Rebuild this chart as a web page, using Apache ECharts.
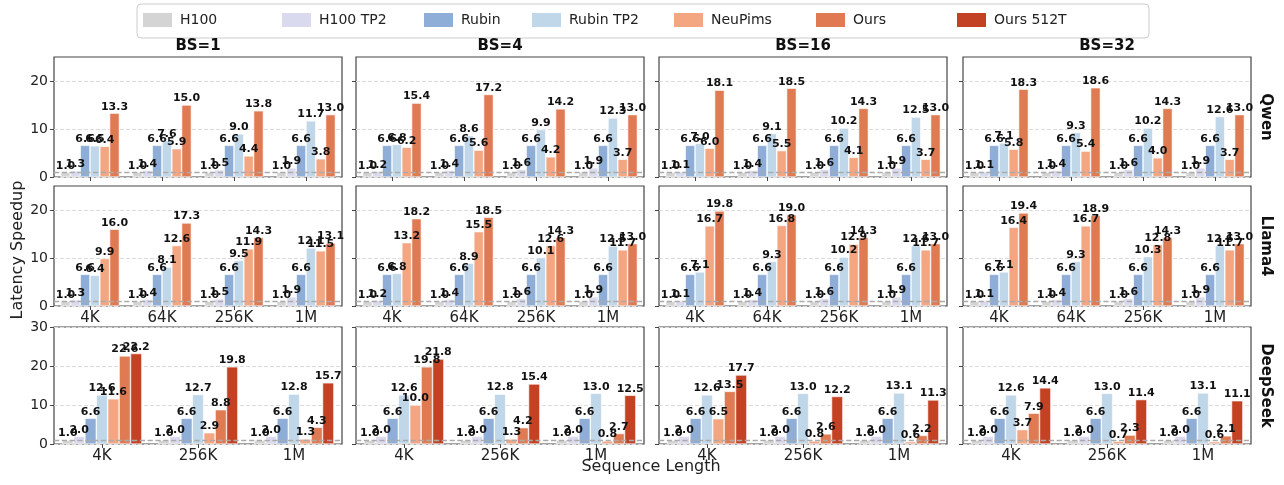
<!DOCTYPE html>
<html>
<head>
<meta charset="utf-8">
<script src="https://cdn.jsdelivr.net/npm/echarts@6/dist/echarts.min.js"></script>
<style>
  html, body { margin: 0; padding: 0; background: #fff; }
  #chart { width: 1284px; height: 485px; }
</style>
</head>
<body>
<div id="chart"></div>
<script>
var systems = ['H100', 'H100 TP2', 'Rubin', 'Rubin TP2', 'NeuPims', 'Ours', 'Ours 512T'];
var colors = ['#d4d4d4', '#dadaef', '#8eaed8', '#c0d7ea', '#f4a683', '#e07a52', '#c44224'];
var batchSizes = ['BS=1', 'BS=4', 'BS=16', 'BS=32'];
var models = ['Qwen', 'Llama4', 'DeepSeek'];
var seqLong = ['4K', '64K', '256K', '1M'];
var seqDeepSeek = ['4K', '256K', '1M'];
var yTicksSmall = [0, 10, 20];
var yTicksBig = [0, 10, 20, 30];

// one row per system, one value per sequence length
var qwenBS1 = [[1.0, 1.0, 1.0, 1.0], [1.3, 1.4, 1.5, 1.9], [6.6, 6.6, 6.6, 6.6], [6.5, 7.6, 9.0, 11.7], [6.4, 5.9, 4.4, 3.8], [13.3, 15.0, 13.8, 13.0]];
var qwenBS4 = [[1.0, 1.0, 1.0, 1.0], [1.2, 1.4, 1.6, 1.9], [6.6, 6.6, 6.6, 6.6], [6.8, 8.6, 9.9, 12.3], [6.2, 5.6, 4.2, 3.7], [15.4, 17.2, 14.2, 13.0]];
var qwenBS16 = [[1.0, 1.0, 1.0, 1.0], [1.1, 1.4, 1.6, 1.9], [6.6, 6.6, 6.6, 6.6], [7.0, 9.1, 10.2, 12.5], [6.0, 5.5, 4.1, 3.7], [18.1, 18.5, 14.3, 13.0]];
var qwenBS32 = [[1.0, 1.0, 1.0, 1.0], [1.1, 1.4, 1.6, 1.9], [6.6, 6.6, 6.6, 6.6], [7.1, 9.3, 10.2, 12.6], [5.8, 5.4, 4.0, 3.7], [18.3, 18.6, 14.3, 13.0]];

var llamaBS1 = [[1.0, 1.0, 1.0, 1.0], [1.3, 1.4, 1.5, 1.9], [6.6, 6.6, 6.6, 6.6], [6.4, 8.1, 9.5, 12.1], [9.9, 12.6, 11.9, 11.5], [16.0, 17.3, 14.3, 13.1]];
var llamaBS4 = [[1.0, 1.0, 1.0, 1.0], [1.2, 1.4, 1.6, 1.9], [6.6, 6.6, 6.6, 6.6], [6.8, 8.9, 10.1, 12.5], [13.2, 15.5, 12.6, 11.7], [18.2, 18.5, 14.3, 13.0]];
var llamaBS16 = [[1.0, 1.0, 1.0, 1.0], [1.1, 1.4, 1.6, 1.9], [6.6, 6.6, 6.6, 6.6], [7.1, 9.3, 10.2, 12.6], [16.7, 16.8, 12.9, 11.7], [19.8, 19.0, 14.3, 13.0]];
var llamaBS32 = [[1.0, 1.0, 1.0, 1.0], [1.1, 1.4, 1.6, 1.9], [6.6, 6.6, 6.6, 6.6], [7.1, 9.3, 10.3, 12.6], [16.4, 16.7, 12.8, 11.7], [19.4, 18.9, 14.3, 13.0]];

var deepseekBS1 = [[1.0, 1.0, 1.0], [2.0, 2.0, 2.0], [6.6, 6.6, 6.6], [12.6, 12.7, 12.8], [11.6, 2.9, 1.3], [22.6, 8.8, 4.3], [23.2, 19.8, 15.7]];
var deepseekBS4 = [[1.0, 1.0, 1.0], [2.0, 2.0, 2.0], [6.6, 6.6, 6.6], [12.6, 12.8, 13.0], [10.0, 1.3, 0.8], [19.8, 4.2, 2.7], [21.8, 15.4, 12.5]];
var deepseekBS16 = [[1.0, 1.0, 1.0], [2.0, 2.0, 2.0], [6.6, 6.6, 6.6], [12.6, 13.0, 13.1], [6.5, 0.8, 0.6], [13.5, 2.6, 2.2], [17.7, 12.2, 11.3]];
var deepseekBS32 = [[1.0, 1.0, 1.0], [2.0, 2.0, 2.0], [6.6, 6.6, 6.6], [12.6, 13.0, 13.1], [3.7, 0.7, 0.6], [7.9, 2.3, 2.1], [14.4, 11.4, 11.1]];

var panelData = [
  [qwenBS1, qwenBS4, qwenBS16, qwenBS32],
  [llamaBS1, llamaBS4, llamaBS16, llamaBS32],
  [deepseekBS1, deepseekBS4, deepseekBS16, deepseekBS32]
];

var colLeft = [54, 356, 659, 963];
var gridW = 288;
var rowTop = [57, 186, 327];
var rowH = [120, 120, 117];
var fontName = 'DejaVu Sans';

var chart = echarts.init(document.getElementById('chart'));
var grids = [], xAxes = [], yAxes = [], series = [];

for (var r = 0; r < 3; r++) {
  var cats = r < 2 ? seqLong : seqDeepSeek;
  var ticks = r < 2 ? yTicksSmall : yTicksBig;
  var bw = r < 2 ? 9.8 : 11.4;
  for (var c = 0; c < 4; c++) {
    var idx = r * 4 + c;
    var d = panelData[r][c];
    grids.push({
      left: colLeft[c], top: rowTop[r], width: gridW, height: rowH[r],
      show: true, borderColor: '#444', borderWidth: 1.2
    });
    xAxes.push({
      type: 'category', gridIndex: idx, data: cats,
      axisLine: { show: false },
      axisTick: { show: true, alignWithLabel: true, length: 4, lineStyle: { color: '#444' } },
      axisLabel: { show: r > 0, fontSize: 15, color: '#222', margin: 5, fontFamily: fontName },
      splitLine: { show: false }
    });
    yAxes.push({
      type: 'value', gridIndex: idx, min: 0, max: r < 2 ? 25 : 30, interval: 10,
      axisLine: { show: false },
      axisTick: { show: true, length: 4, customValues: ticks, lineStyle: { color: '#444' } },
      axisLabel: { show: c === 0, customValues: ticks, fontSize: 14, color: '#222', margin: 6, fontFamily: fontName },
      splitLine: { show: true, lineStyle: { type: 'dashed', color: '#dcdcdc' } }
    });
    for (var s = 0; s < d.length; s++) {
      var item = {
        type: 'bar', name: systems[s], xAxisIndex: idx, yAxisIndex: idx,
        data: d[s], barWidth: bw, barGap: '0%',
        itemStyle: { color: colors[s], borderColor: '#fff', borderWidth: 0.6 },
        label: {
          show: true, position: 'top', distance: 1,
          fontSize: 11, fontWeight: 'bold', color: '#111', fontFamily: fontName,
          formatter: function (p) { return p.value.toFixed(1); }
        }
      };
      if (s === 0) {
        item.markLine = {
          silent: true, symbol: 'none', label: { show: false },
          lineStyle: { type: 'dashed', color: '#aaa', width: 1.3 },
          data: [{ yAxis: 1 }]
        };
      }
      series.push(item);
    }
  }
}

var legendLeft = [143, 282, 424, 532, 674, 816, 957];
var legends = systems.map(function (name, i) {
  return {
    data: [name], left: legendLeft[i], top: 13, padding: 0,
    itemWidth: 29, itemHeight: 14, icon: 'rect',
    itemStyle: { borderWidth: 0 },
    textStyle: { fontSize: 14, color: '#222', fontFamily: fontName, padding: [0, 0, 0, 3] }
  };
});

var graphics = [{
  type: 'rect', shape: { x: 137, y: 4, width: 1012, height: 34, r: 4 },
  style: { fill: 'none', stroke: '#cccccc', lineWidth: 1 }
}];
batchSizes.forEach(function (t, c) {
  graphics.push({
    type: 'text', x: colLeft[c] + gridW / 2, y: 46,
    style: { text: t, fontSize: 15, fontWeight: 'bold', fill: '#111', fontFamily: fontName, align: 'center', verticalAlign: 'middle' }
  });
});
models.forEach(function (t, r) {
  graphics.push({
    type: 'text', x: 1266, y: rowTop[r] + rowH[r] / 2, rotation: -Math.PI / 2,
    style: { text: t, fontSize: 15, fontWeight: 'bold', fill: '#111', fontFamily: fontName, align: 'center', verticalAlign: 'middle' }
  });
});
graphics.push({
  type: 'text', x: 18, y: 250, rotation: Math.PI / 2,
  style: { text: 'Latency Speedup', fontSize: 16, fill: '#222', fontFamily: fontName, align: 'center', verticalAlign: 'middle' }
});
graphics.push({
  type: 'text', x: 651, y: 467,
  style: { text: 'Sequence Length', fontSize: 16, fill: '#222', fontFamily: fontName, align: 'center', verticalAlign: 'middle' }
});

chart.setOption({
  backgroundColor: '#fff',
  animation: false,
  legend: legends,
  grid: grids,
  xAxis: xAxes,
  yAxis: yAxes,
  series: series,
  graphic: graphics
});
</script>
</body>
</html>
